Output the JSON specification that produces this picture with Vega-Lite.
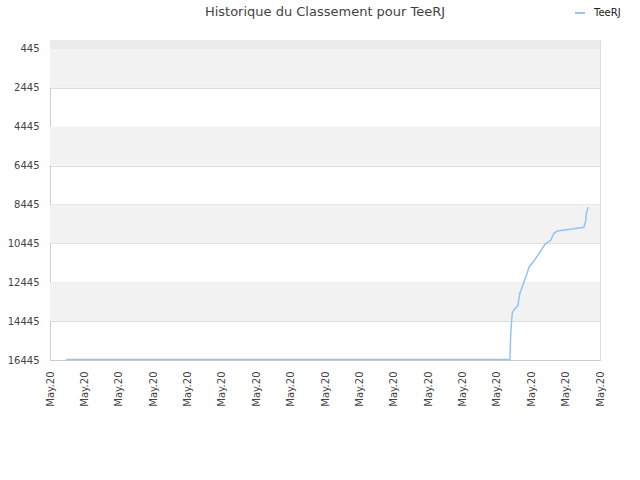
{
  "$schema": "https://vega.github.io/schema/vega-lite/v6.json",
  "width": 550,
  "height": 320,
  "autosize": "none",
  "padding": {"left": 50, "top": 40, "right": 40, "bottom": 120},
  "background": "white",
  "config": {
    "font": "DejaVu Sans",
    "view": {"stroke": "#dddddd"},
    "axis": {"labelColor": "#444444", "labelFontSize": 10, "domainColor": "#cccccc", "ticks": false, "gridColor": "#dddddd", "labelOverlap": false, "zindex": 1}
  },
  "title": {
    "text": "Historique du Classement pour TeeRJ",
    "fontSize": 13,
    "fontWeight": "normal",
    "color": "#444444",
    "anchor": "middle",
    "frame": "group",
    "offset": 0,
    "dy": 12
  },
  "datasets": {
    "bands": [
      {"lo": 445, "hi": 2445},
      {"lo": 4445, "hi": 6445},
      {"lo": 8445, "hi": 10445},
      {"lo": 12445, "hi": 14445}
    ],
    "topband": [
      {"lo": -15, "hi": 445}
    ],
    "ranks": [
      {"t": 0.47, "rank": 16420, "player": "TeeRJ"},
      {"t": 13.38, "rank": 16420, "player": "TeeRJ"},
      {"t": 13.40, "rank": 15247, "player": "TeeRJ"},
      {"t": 13.43, "rank": 14388, "player": "TeeRJ"},
      {"t": 13.45, "rank": 14012, "player": "TeeRJ"},
      {"t": 13.51, "rank": 13838, "player": "TeeRJ"},
      {"t": 13.61, "rank": 13652, "player": "TeeRJ"},
      {"t": 13.67, "rank": 13014, "player": "TeeRJ"},
      {"t": 13.74, "rank": 12674, "player": "TeeRJ"},
      {"t": 13.79, "rank": 12417, "player": "TeeRJ"},
      {"t": 13.84, "rank": 12191, "player": "TeeRJ"},
      {"t": 13.94, "rank": 11646, "player": "TeeRJ"},
      {"t": 14.06, "rank": 11389, "player": "TeeRJ"},
      {"t": 14.20, "rank": 11044, "player": "TeeRJ"},
      {"t": 14.40, "rank": 10493, "player": "TeeRJ"},
      {"t": 14.57, "rank": 10272, "player": "TeeRJ"},
      {"t": 14.66, "rank": 9927, "player": "TeeRJ"},
      {"t": 14.76, "rank": 9809, "player": "TeeRJ"},
      {"t": 15.13, "rank": 9722, "player": "TeeRJ"},
      {"t": 15.53, "rank": 9619, "player": "TeeRJ"},
      {"t": 15.58, "rank": 9330, "player": "TeeRJ"},
      {"t": 15.61, "rank": 8816, "player": "TeeRJ"},
      {"t": 15.66, "rank": 8589, "player": "TeeRJ"}
    ]
  },
  "layer": [
    {
      "data": {"name": "topband"},
      "mark": {"type": "rect", "color": "#ebebeb"},
      "encoding": {
        "y": {
          "field": "lo",
          "type": "quantitative",
          "scale": {"domain": [-15, 16445], "reverse": true, "nice": false, "zero": false},
          "axis": {"title": null, "values": [445, 2445, 4445, 6445, 8445, 10445, 12445, 14445, 16445], "format": "d", "labelOverlap": false, "labelPadding": 11, "grid": true, "gridColor": "#dddddd"}
        },
        "y2": {"field": "hi"}
      }
    },
    {
      "data": {"name": "bands"},
      "mark": {"type": "rect", "color": "#f2f2f2"},
      "encoding": {
        "y": {
          "field": "lo",
          "type": "quantitative",
          "axis": {"title": null, "values": [445, 2445, 4445, 6445, 8445, 10445, 12445, 14445, 16445], "format": "d", "labelOverlap": false, "labelPadding": 11, "grid": true, "gridColor": "#dddddd"}
        },
        "y2": {"field": "hi"}
      }
    },
    {
      "data": {"name": "ranks"},
      "mark": {"type": "line", "strokeWidth": 1.5, "interpolate": "linear"},
      "encoding": {
        "x": {
          "field": "t",
          "type": "quantitative",
          "scale": {"domain": [0, 16], "nice": false, "zero": false},
          "axis": {"title": null, "values": [0,1,2,3,4,5,6,7,8,9,10,11,12,13,14,15,16], "labelExpr": "'May.20'", "labelAngle": -90, "labelAlign": "right", "labelBaseline": "middle", "labelPadding": 11, "labelOverlap": false, "grid": false}
        },
        "y": {
          "field": "rank",
          "type": "quantitative",
          "axis": {"title": null, "values": [445, 2445, 4445, 6445, 8445, 10445, 12445, 14445, 16445], "format": "d", "labelOverlap": false, "labelPadding": 11, "grid": true, "gridColor": "#dddddd"}
        },
        "color": {
          "field": "player",
          "type": "nominal",
          "scale": {"range": ["#94c4f2"]},
          "legend": {"title": null, "orient": "none", "legendX": 524, "legendY": -33, "symbolType": "stroke", "symbolStrokeWidth": 2, "symbolSize": 100, "labelFontSize": 10, "labelOffset": 8, "labelColor": "#222222"}
        }
      }
    }
  ]
}
